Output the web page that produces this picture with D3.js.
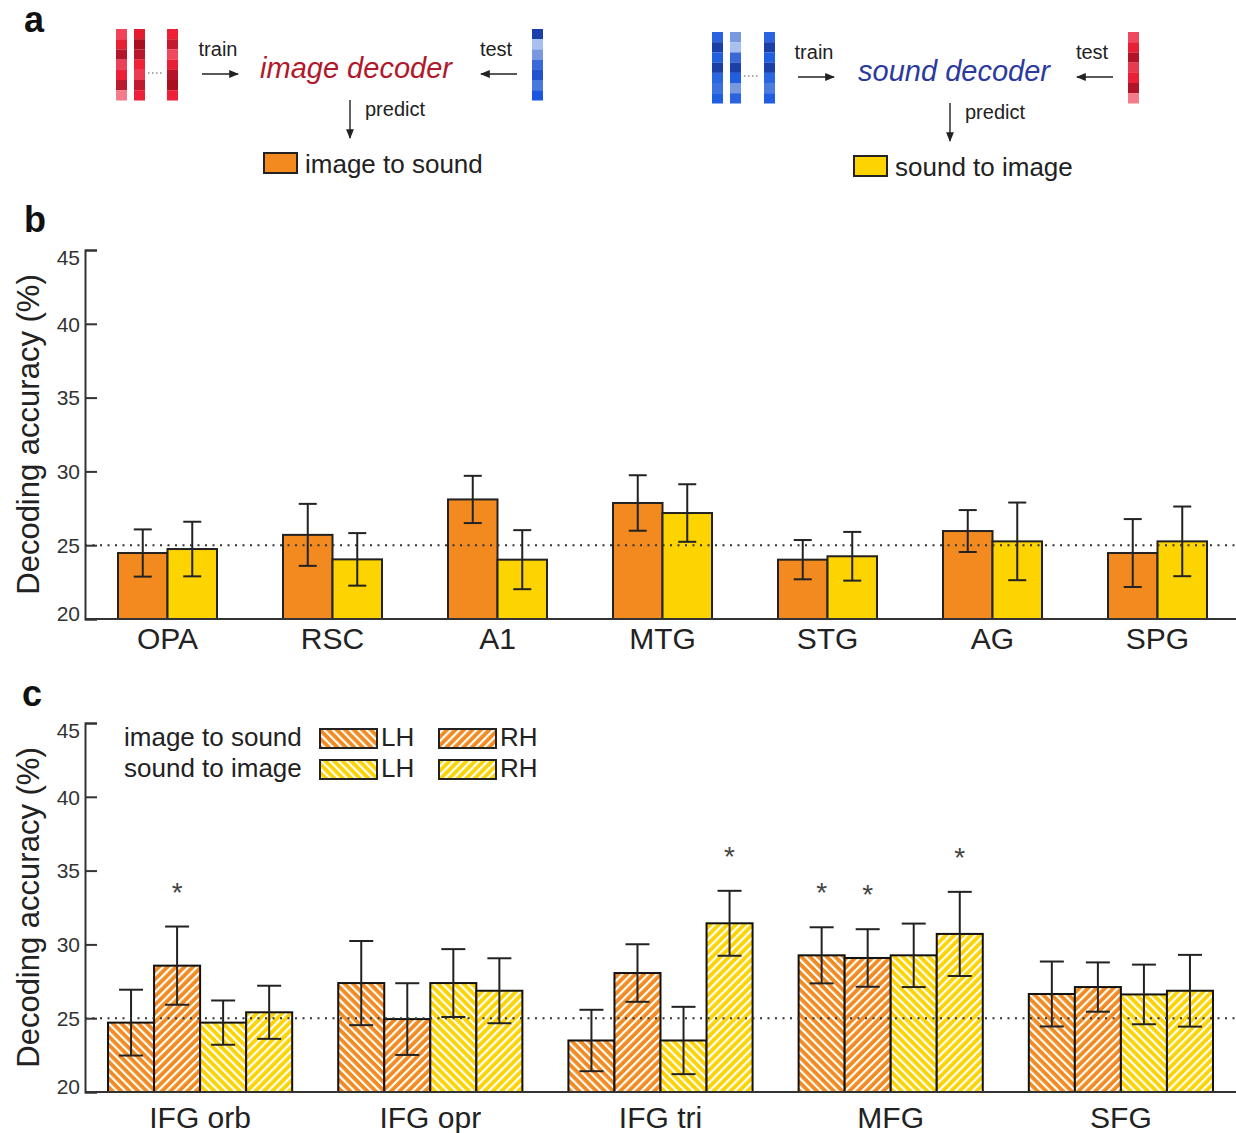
<!DOCTYPE html>
<html>
<head>
<meta charset="utf-8">
<script src="https://cdn.jsdelivr.net/npm/d3@7"></script>
<style>
  body { margin: 0; background: #fff; }
  text { font-family: "Liberation Sans", Arial, sans-serif; }
</style>
</head>
<body>
<div id="chart"></div>
<script>
// Panel b: region-wise cross-modal decoding
const regionsB = ["OPA", "RSC", "A1", "MTG", "STG", "AG", "SPG"];
const imageToSoundB = [24.47, 25.7, 28.1, 27.86, 24.02, 25.96, 24.47];
const imageToSoundErrB = [1.6, 2.1, 1.6, 1.88, 1.33, 1.42, 2.3];
const soundToImageB = [24.74, 24.04, 24.02, 27.18, 24.25, 25.26, 25.26];
const soundToImageErrB = [1.85, 1.78, 2.0, 1.95, 1.65, 2.63, 2.36];

// Panel c: frontal regions split by hemisphere
const regionsC = ["IFG orb", "IFG opr", "IFG tri", "MFG", "SFG"];
const imageToSoundLH = [24.7, 27.38, 23.49, 29.26, 26.64];
const imageToSoundLHErr = [2.23, 2.85, 2.08, 1.9, 2.2];
const imageToSoundRH = [28.56, 24.94, 28.06, 29.08, 27.11];
const imageToSoundRHErr = [2.65, 2.43, 1.95, 1.95, 1.67];
const soundToImageLH = [24.7, 27.38, 23.49, 29.26, 26.61];
const soundToImageLHErr = [1.5, 2.3, 2.28, 2.15, 2.02];
const soundToImageRH = [25.4, 26.86, 31.43, 30.71, 26.86];
const soundToImageRHErr = [1.8, 2.2, 2.2, 2.85, 2.43];
// significant conditions (star markers)
const sigImageToSoundLH = [false, false, false, true, false];
const sigImageToSoundRH = [true, false, false, true, false];
const sigSoundToImageLH = [false, false, false, false, false];
const sigSoundToImageRH = [false, false, true, true, false];

const yTicks = [20, 25, 30, 35, 40, 45];
const chance = 25;

// panel a voxel pattern colours
const redStripes = [
  ["#f2425a", "#e82033", "#b3162a", "#ec4058", "#ea2036", "#b81a2e", "#f47c8a"],
  ["#e41c30", "#a8101f", "#b8182b", "#ee2338", "#ec3a50", "#c01a2f", "#ec2038"],
  ["#ee2036", "#c41a2e", "#f0485e", "#e82035", "#b4142a", "#a8101f", "#ee2038"]
];
const blueTest = ["#1a3fa8", "#a8c0f0", "#7898e0", "#3a68d8", "#1f52cc", "#4a78dc", "#1a56e0"];
const blueStripes = [
  ["#2a62e0", "#1a40a8", "#2060e0", "#1a40a8", "#2a66e0", "#3a70e0", "#1f5ee0"],
  ["#7898e0", "#a8c0f0", "#3a68d8", "#1a3fa8", "#2060e0", "#7898e0", "#2a62e0"],
  ["#2a62e0", "#1a40a8", "#2060e0", "#1a40a8", "#2a66e0", "#4a7ce0", "#1f5ee0"]
];
const redTest = ["#f0485e", "#e82035", "#b4142a", "#e83a4f", "#ea2036", "#b01428", "#f47c8a"];

const ORANGE = "#f28a1f";
const YELLOW = "#fdd300";
const INK = "#222";

const width = 1236, height = 1133;
const svg = d3.select("#chart").append("svg")
  .attr("width", width).attr("height", height)
  .style("background", "#fff");

const defs = svg.append("defs");
defs.append("marker")
  .attr("id", "arrow")
  .attr("viewBox", "0 0 10 10")
  .attr("refX", 9).attr("refY", 5)
  .attr("markerWidth", 7).attr("markerHeight", 7)
  .attr("orient", "auto")
  .append("path").attr("d", "M0,1 L10,5 L0,9 Z").attr("fill", INK);

// hatch patterns: LH "\\\\", RH "////"
function hatch(id, color, angle) {
  const p = defs.append("pattern")
    .attr("id", id)
    .attr("patternUnits", "userSpaceOnUse")
    .attr("width", 6).attr("height", 6)
    .attr("patternTransform", `rotate(${angle})`);
  p.append("rect").attr("width", 6).attr("height", 6).attr("fill", color);
  p.append("rect").attr("width", 2.2).attr("height", 6).attr("fill", "#fff");
}
hatch("i2sLH", ORANGE, -45);
hatch("i2sRH", ORANGE, 45);
hatch("s2iLH", YELLOW, -45);
hatch("s2iRH", YELLOW, 45);

// ---------- panel labels ----------
[["a", 24, 32], ["b", 24, 232], ["c", 22, 706]].forEach(([t, x, y]) => {
  svg.append("text").attr("x", x).attr("y", y)
    .attr("font-size", 36).attr("font-weight", "bold").attr("fill", "#111").text(t);
});

// ---------- panel a ----------
function strip(g, colors, x, y0) {
  g.selectAll(null).data(colors).enter().append("rect")
    .attr("x", x).attr("y", (d, i) => y0 + i * 10.2)
    .attr("width", 11).attr("height", 10.3)
    .attr("fill", d => d);
}
function arrow(g, x1, y1, x2, y2) {
  g.append("line")
    .attr("x1", x1).attr("y1", y1).attr("x2", x2).attr("y2", y2)
    .attr("stroke", INK).attr("stroke-width", 1.4)
    .attr("marker-end", "url(#arrow)");
}
function label(g, x, y, txt, size, anchor) {
  return g.append("text").attr("x", x).attr("y", y)
    .attr("font-size", size).attr("text-anchor", anchor || "start")
    .attr("fill", INK).text(txt);
}

function decoderPanel(o) {
  const g = svg.append("g");
  o.train.forEach((c, i) => strip(g, c, o.stripX[i], o.y0));
  g.append("line")
    .attr("x1", o.dots[0]).attr("x2", o.dots[1])
    .attr("y1", o.y0 + 44).attr("y2", o.y0 + 44)
    .attr("stroke", "#555").attr("stroke-width", 1.2)
    .attr("stroke-dasharray", "1.5,2.5");
  strip(g, o.test, o.testX, o.y0);
  label(g, o.trainX, o.y0 + 27, "train", 20, "middle");
  arrow(g, o.trainX - 16, o.y0 + 45, o.trainX + 20, o.y0 + 45);
  g.append("text").attr("x", o.decX).attr("y", o.y0 + 49)
    .attr("font-size", 29).attr("font-style", "italic")
    .attr("text-anchor", "middle").attr("fill", o.decColor).text(o.decName);
  label(g, o.testX - 36, o.y0 + 27, "test", 20, "middle");
  arrow(g, o.testX - 15, o.y0 + 45, o.testX - 51, o.y0 + 45);
  arrow(g, o.predX, o.y0 + 71, o.predX, o.y0 + 109);
  label(g, o.predX + 15, o.y0 + 87, "predict", 20);
  g.append("rect").attr("x", o.boxX).attr("y", o.y0 + 124)
    .attr("width", 33).attr("height", 20)
    .attr("fill", o.outColor).attr("stroke", INK).attr("stroke-width", 2);
  label(g, o.boxX + 41, o.y0 + 144, o.outName, 26);
}

decoderPanel({
  y0: 29, stripX: [116, 134, 167], dots: [148, 162], train: redStripes,
  test: blueTest, testX: 532, trainX: 218,
  decX: 356, decName: "image decoder", decColor: "#b2182b",
  predX: 350, boxX: 264, outColor: ORANGE, outName: "image to sound"
});
decoderPanel({
  y0: 32, stripX: [712, 730, 764], dots: [744, 759], train: blueStripes,
  test: redTest, testX: 1128, trainX: 814,
  decX: 954, decName: "sound decoder", decColor: "#2c3a9e",
  predX: 950, boxX: 854, outColor: YELLOW, outName: "sound to image"
});

// ---------- shared axis helpers ----------
const x0 = 85, xEnd = 1236;

function drawAxes(y, top, bottom) {
  const ax = svg.append("g").attr("transform", `translate(${x0},0)`)
    .call(d3.axisLeft(y).tickValues(yTicks).tickSize(-12).tickPadding(5));
  ax.select(".domain").attr("stroke", "#333").attr("stroke-width", 2);
  ax.selectAll(".tick line").attr("stroke", "#333").attr("stroke-width", 2);
  ax.selectAll(".tick text")
    .attr("font-size", 21).attr("fill", "#333")
    .attr("font-family", "Liberation Sans, Arial, sans-serif")
    .attr("dy", d => d === 45 ? "0.7em" : d === 20 ? "0.05em" : "0.35em");
  svg.append("line")
    .attr("x1", x0).attr("x2", xEnd).attr("y1", bottom).attr("y2", bottom)
    .attr("stroke", "#333").attr("stroke-width", 2);
  svg.append("text")
    .attr("transform", `translate(39,${(top + bottom) / 2}) rotate(-90)`)
    .attr("text-anchor", "middle").attr("font-size", 31).attr("fill", INK)
    .text("Decoding accuracy (%)");
}

function chanceLine(y) {
  svg.append("line")
    .attr("x1", x0).attr("x2", xEnd).attr("y1", y(chance)).attr("y2", y(chance))
    .attr("stroke", "#333").attr("stroke-width", 2)
    .attr("stroke-dasharray", "2,5.5");
}

function errorBars(g, rows, y, cap) {
  const eb = g.selectAll(null).data(rows).enter().append("g")
    .attr("stroke", INK).attr("stroke-width", 2);
  eb.append("line")
    .attr("x1", d => d.cx).attr("x2", d => d.cx)
    .attr("y1", d => y(d.v + d.e)).attr("y2", d => y(d.v - d.e));
  eb.append("line")
    .attr("x1", d => d.cx - cap / 2).attr("x2", d => d.cx + cap / 2)
    .attr("y1", d => y(d.v + d.e)).attr("y2", d => y(d.v + d.e));
  eb.append("line")
    .attr("x1", d => d.cx - cap / 2).attr("x2", d => d.cx + cap / 2)
    .attr("y1", d => y(d.v - d.e)).attr("y2", d => y(d.v - d.e));
}

// ---------- panel b ----------
const bTop = 250, bBottom = 619;
const yB = d3.scaleLinear().domain([20, 45]).range([bBottom, bTop]);
const xB = d3.scaleBand().domain(regionsB).range([x0, 1240])
  .paddingInner(0.4).paddingOuter(0.2);
const seriesB = ["image to sound", "sound to image"];
const xBi = d3.scaleBand().domain(seriesB).range([0, xB.bandwidth()]);
const colorB = d3.scaleOrdinal().domain(seriesB).range([ORANGE, YELLOW]);

const rowsB = [];
regionsB.forEach((r, i) => {
  rowsB.push({ r, s: seriesB[0], v: imageToSoundB[i], e: imageToSoundErrB[i] });
  rowsB.push({ r, s: seriesB[1], v: soundToImageB[i], e: soundToImageErrB[i] });
});
rowsB.forEach(d => { d.x = xB(d.r) + xBi(d.s); d.cx = d.x + xBi.bandwidth() / 2; });

const gB = svg.append("g");
gB.selectAll("rect").data(rowsB).enter().append("rect")
  .attr("x", d => d.x).attr("y", d => yB(d.v))
  .attr("width", xBi.bandwidth()).attr("height", d => yB(20) - yB(d.v))
  .attr("fill", d => colorB(d.s)).attr("stroke", INK).attr("stroke-width", 2);
chanceLine(yB);
errorBars(gB, rowsB, yB, 18);
drawAxes(yB, bTop, bBottom);
svg.append("g").selectAll("text").data(regionsB).enter().append("text")
  .attr("x", d => xB(d) + xB.bandwidth() / 2).attr("y", bBottom + 30)
  .attr("text-anchor", "middle").attr("font-size", 30).attr("fill", INK)
  .text(d => d);

// ---------- panel c ----------
const cTop = 723, cBottom = 1092;
const yC = d3.scaleLinear().domain([20, 45]).range([cBottom, cTop]);
const xC = d3.scaleBand().domain(regionsC).range([x0, xEnd])
  .paddingInner(0.2).paddingOuter(0.1);
const condsC = ["i2sLH", "i2sRH", "s2iLH", "s2iRH"];
const xCi = d3.scaleBand().domain(condsC).range([0, xC.bandwidth()]);
const valsC = {
  i2sLH: [imageToSoundLH, imageToSoundLHErr, sigImageToSoundLH],
  i2sRH: [imageToSoundRH, imageToSoundRHErr, sigImageToSoundRH],
  s2iLH: [soundToImageLH, soundToImageLHErr, sigSoundToImageLH],
  s2iRH: [soundToImageRH, soundToImageRHErr, sigSoundToImageRH]
};
const rowsC = [];
regionsC.forEach((r, i) => {
  condsC.forEach(c => {
    const [v, e, s] = valsC[c];
    const x = xC(r) + xCi(c);
    rowsC.push({ r, c, v: v[i], e: e[i], sig: s[i], x, cx: x + xCi.bandwidth() / 2 });
  });
});

const gC = svg.append("g");
gC.selectAll("rect").data(rowsC).enter().append("rect")
  .attr("x", d => d.x).attr("y", d => yC(d.v))
  .attr("width", xCi.bandwidth()).attr("height", d => yC(20) - yC(d.v))
  .attr("fill", d => `url(#${d.c})`).attr("stroke", "#111").attr("stroke-width", 2);
chanceLine(yC);
errorBars(gC, rowsC, yC, 24);
gC.selectAll("text.star").data(rowsC.filter(d => d.sig)).enter().append("text")
  .attr("class", "star")
  .attr("x", d => d.cx).attr("y", d => yC(d.v + d.e) - 25)
  .attr("text-anchor", "middle").attr("font-size", 28).attr("fill", "#444")
  .text("*");
drawAxes(yC, cTop, cBottom);
svg.append("g").selectAll("text").data(regionsC).enter().append("text")
  .attr("x", d => xC(d) + xC.bandwidth() / 2).attr("y", cBottom + 36)
  .attr("text-anchor", "middle").attr("font-size", 30).attr("fill", INK)
  .text(d => d);

// legend for panel c
const legendRows = [
  { name: "image to sound", lh: "i2sLH", rh: "i2sRH", y: 729 },
  { name: "sound to image", lh: "s2iLH", rh: "s2iRH", y: 760 }
];
const lg = svg.append("g");
legendRows.forEach(r => {
  label(lg, 124, r.y + 17, r.name, 26);
  [[r.lh, 320, "LH"], [r.rh, 439, "RH"]].forEach(([id, x, t]) => {
    lg.append("rect").attr("x", x).attr("y", r.y)
      .attr("width", 57).attr("height", 19)
      .attr("fill", `url(#${id})`).attr("stroke", INK).attr("stroke-width", 2);
    label(lg, x + 61, r.y + 17, t, 26);
  });
});
</script>
</body>
</html>
